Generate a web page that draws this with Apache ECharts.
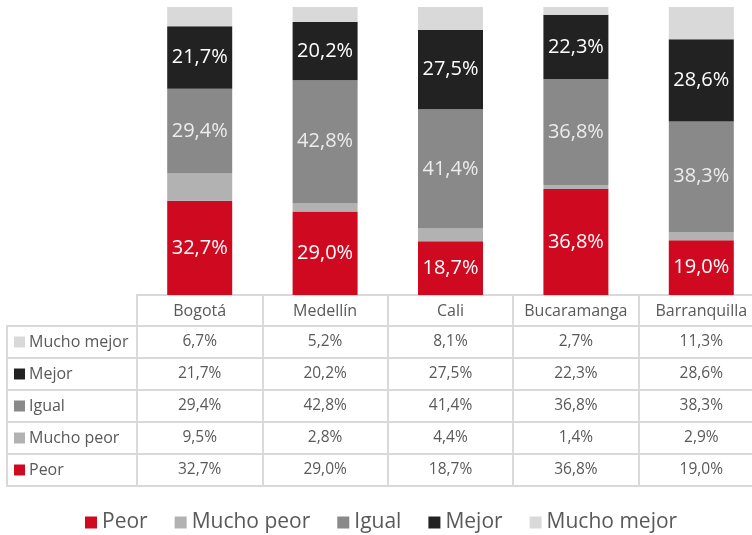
<!DOCTYPE html>
<html>
<head>
<meta charset="utf-8">
<script src="https://cdn.jsdelivr.net/npm/echarts@6/dist/echarts.min.js"></script>
<style>
  html, body { margin: 0; padding: 0; background: #fff; }
  #chart { width: 752px; height: 535px; }
</style>
</head>
<body>
<div id="chart"></div>
<script>
const cities = ['Bogotá', 'Medellín', 'Cali', 'Bucaramanga', 'Barranquilla'];
const peor = [32.7, 29.0, 18.7, 36.8, 19.0];
const muchoPeor = [9.5, 2.8, 4.4, 1.4, 2.9];
const igual = [29.4, 42.8, 41.4, 36.8, 38.3];
const mejor = [21.7, 20.2, 27.5, 22.3, 28.6];
const muchoMejor = [6.7, 5.2, 8.1, 2.7, 11.3];

// series bottom -> top
const seriesDefs = [
  { name: 'Peor', data: peor, color: '#cf0a20', label: '#ffffff' },
  { name: 'Mucho peor', data: muchoPeor, color: '#b2b2b2', label: null },
  { name: 'Igual', data: igual, color: '#898989', label: '#ececec' },
  { name: 'Mejor', data: mejor, color: '#222222', label: '#ffffff' },
  { name: 'Mucho mejor', data: muchoMejor, color: '#d9d9d9', label: null }
];
// table rows top -> bottom
const tableRows = seriesDefs.slice().reverse();

const fmt = v => v.toFixed(1).replace('.', ',') + '%';
const border = { color: '#d9d9d9', width: 2 };
const txt = '#595959';

const chart = echarts.init(document.getElementById('chart'));

let xAxes = [];
// header row with city names
xAxes.push({
  gridIndex: 0, type: 'category', data: cities, position: 'bottom', offset: 1,
  axisLine: { show: true, lineStyle: border },
  axisTick: { show: true, length: 30, interval: 0, lineStyle: border },
  axisLabel: { interval: 0, margin: 7, fontSize: 16, color: txt }
});
// value rows
tableRows.forEach((row, k) => {
  xAxes.push({
    gridIndex: 0, type: 'category', data: row.data.map(fmt), position: 'bottom', offset: 31 + 32 * k,
    axisLine: { show: true, lineStyle: border },
    axisTick: { show: true, length: 32, interval: 0, lineStyle: border },
    axisLabel: { interval: 0, margin: 8, fontSize: 15.5, color: txt }
  });
});
// bottom border of table
xAxes.push({
  gridIndex: 0, type: 'category', data: cities, position: 'bottom', offset: 191,
  axisLine: { show: true, lineStyle: border },
  axisTick: { show: false }, axisLabel: { show: false }
});
// hidden x axis of the row-header grid
xAxes.push({ gridIndex: 1, type: 'value', show: false });

const rich = { t: { fontSize: 16, color: txt, padding: [0, 0, 0, 4] } };
tableRows.forEach((row, i) => {
  rich['m' + i] = { width: 11, height: 11, backgroundColor: row.color };
});

chart.setOption({
  animation: false,
  textStyle: { fontFamily: '"Open Sans", sans-serif' },
  grid: [
    { left: 137, top: 7, width: 627, height: 288, outerBoundsMode: 'none' },
    { left: 7, top: 326, width: 130, height: 160, outerBoundsMode: 'none' }
  ],
  legend: {
    top: 507, left: 80, icon: 'rect', itemWidth: 12, itemHeight: 12, itemGap: 27,
    textStyle: { fontSize: 21, color: txt },
    data: seriesDefs.map(s => s.name)
  },
  xAxis: xAxes,
  yAxis: [
    { gridIndex: 0, type: 'value', min: 0, max: 100, show: false },
    {
      gridIndex: 1, type: 'category', inverse: true, data: tableRows.map(r => r.name),
      axisLine: { show: true, lineStyle: border },
      axisTick: { show: false },
      splitLine: { show: true, interval: 0, lineStyle: border },
      axisLabel: {
        inside: true, interval: 0, margin: 7,
        formatter: (v, i) => '{m' + i + '|}{t|' + v + '}',
        rich: rich
      }
    }
  ],
  series: seriesDefs.map(s => ({
    name: s.name, type: 'bar', stack: 'total', xAxisIndex: 0, yAxisIndex: 0,
    barWidth: 65, data: s.data,
    itemStyle: { color: s.color },
    label: {
      show: !!s.label, position: 'inside', color: s.label || '#fff', fontSize: 20,
      formatter: p => fmt(p.value)
    }
  }))
});
</script>
</body>
</html>
